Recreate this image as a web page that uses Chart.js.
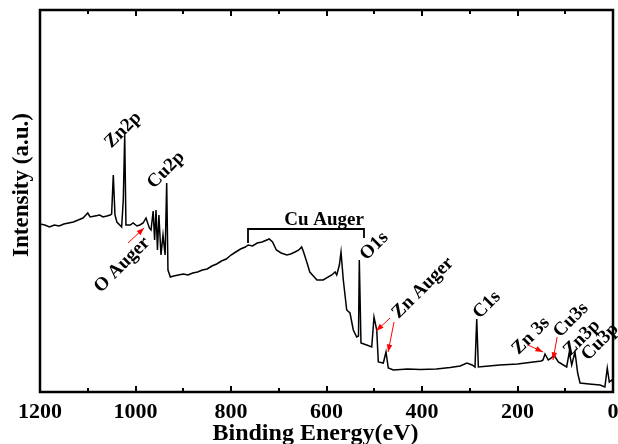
<!DOCTYPE html>
<html>
<head>
<meta charset="utf-8">
<script src="https://cdn.jsdelivr.net/npm/chart.js@4/dist/chart.umd.min.js"></script>
<style>
  html, body { margin: 0; padding: 0; background: #fff; }
  canvas { display: block; }
</style>
</head>
<body>
<canvas id="xpsChart" width="618" height="444"></canvas>
<script>
// binding energy (eV) and intensity (a.u.)
const energies = [
    1200, 1190, 1180, 1170, 1160, 1150, 1140, 1130, 1120, 1110, 1100, 1095, 1085, 1075, 1068, 1060, 1053,
    1050, 1046.5, 1043, 1039, 1029, 1025.6, 1022.6, 1020,
    1011, 1005, 997, 991, 984, 978, 971, 967.5, 963, 960, 957, 954, 951, 946.6, 942.4, 938, 934.7, 932,
    927, 920, 910, 900, 890, 880, 870, 860, 850, 840, 830, 820, 810, 800, 790, 780, 770, 764,
    755, 745, 735, 725, 720, 713, 705, 695, 683, 675, 666, 658, 652, 648, 640, 635,
    620, 607, 589, 582, 578.6, 573, 569.6, 564.8, 557.7, 550.8, 543.9, 536.8, 533, 531.3, 527.8, 515.8, 505.3,
    500.5, 494.8, 491.5, 481, 475.4, 470.6, 460, 430, 404, 370, 341, 320, 306, 295, 289, 285.4, 282,
    260, 237, 200, 167, 150, 146.6, 142.4, 135.5, 129, 123.6, 114.5, 97, 91.5, 86.5, 79.6, 74,
    69, 50, 27, 17, 12, 7.7, 2.7, 0
];
const intensities = [
    168, 167, 165, 167, 166, 168, 169, 170, 172, 174, 179, 175, 176, 177, 175, 176, 177,
    178, 217, 177, 170, 165, 192, 257, 167,
    167, 169, 166, 167, 169, 174, 164, 162, 181, 152, 182, 142, 177, 137, 157, 137, 209, 122,
    115, 116, 117, 118, 117, 119, 120, 122, 123, 126, 128, 131, 133, 137, 140, 143, 145, 147,
    146, 149, 150, 152, 153, 150, 142, 139, 137, 138, 140, 142, 145, 140, 128, 120,
    112, 112, 117, 120, 117, 127, 140, 112, 82, 79, 62, 55, 56, 132, 49, 47, 45,
    75, 62, 30, 29, 40, 24, 22, 23, 22.5, 23, 24.5, 26, 29, 27, 25, 73, 25,
    26, 27, 28, 30, 31, 32, 38, 32, 34, 37, 30, 25, 40, 27, 40, 19,
    9, 8, 7, 5, 24, 10, 12, 10
];

// peak labels: text, energy, intensity of text centre
const peakLabels = ['Zn2p', 'Cu2p', 'O Auger', 'Cu Auger', 'O1s', 'Zn Auger', 'C1s', 'Zn 3s', 'Cu3s', 'Zn3p', 'Cu3p'];
const labelEnergy = [1026, 936, 1028, 605, 500, 398, 264, 172, 88, 65, 27];
const labelIntensity = [262, 222, 127, 172, 146, 104, 87, 56, 72, 54, 50];
const labelAngle = [-45, -45, -45, 0, -45, -45, -45, -45, -45, -45, -45];

// red arrows: tail energy/intensity -> head energy/intensity
const arrowFromE = [1015.7, 467, 458.6, 178, 117];
const arrowFromI = [149, 74, 70, 47, 55];
const arrowToE = [982, 496, 471, 146.6, 125.6];
const arrowToI = [164, 61, 40, 40, 32];

// Cu Auger bracket
const bracketE = [764.4, 521.5];
const bracketTop = 163;
const bracketFoot = [149, 154];

const xTitle = 'Binding Energy(eV)';
const yTitle = 'Intensity (a.u.)';

const serif = '"Liberation Serif", "Times New Roman", serif';

const decorations = {
    id: 'decorations',
    afterDatasetsDraw(chart) {
        const { ctx, chartArea: a, scales: { x, y } } = chart;
        ctx.save();

        // frame
        ctx.strokeStyle = '#000';
        ctx.lineWidth = 2.5;
        ctx.strokeRect(a.left, a.top, a.right - a.left, a.bottom - a.top);

        // inward ticks on bottom and top
        ctx.lineWidth = 2;
        for (let e = 0; e <= 1200; e += 100) {
            const px = Math.round(x.getPixelForValue(e));
            const len = e % 200 === 0 ? 6 : 4;
            ctx.beginPath();
            ctx.moveTo(px, a.bottom);
            ctx.lineTo(px, a.bottom - len);
            ctx.moveTo(px, a.top);
            ctx.lineTo(px, a.top + len);
            ctx.stroke();
        }

        // bracket
        ctx.lineWidth = 1.8;
        ctx.beginPath();
        ctx.moveTo(x.getPixelForValue(bracketE[0]), y.getPixelForValue(bracketFoot[0]));
        ctx.lineTo(x.getPixelForValue(bracketE[0]), y.getPixelForValue(bracketTop));
        ctx.lineTo(x.getPixelForValue(bracketE[1]), y.getPixelForValue(bracketTop));
        ctx.lineTo(x.getPixelForValue(bracketE[1]), y.getPixelForValue(bracketFoot[1]));
        ctx.stroke();

        // labels
        ctx.fillStyle = '#000';
        ctx.font = 'bold 19px ' + serif;
        ctx.textAlign = 'center';
        ctx.textBaseline = 'middle';
        peakLabels.forEach((t, i) => {
            ctx.save();
            ctx.translate(x.getPixelForValue(labelEnergy[i]), y.getPixelForValue(labelIntensity[i]));
            ctx.rotate(labelAngle[i] * Math.PI / 180);
            ctx.fillText(t, 0, 0);
            ctx.restore();
        });

        // arrows
        ctx.strokeStyle = '#ff0000';
        ctx.fillStyle = '#ff0000';
        ctx.lineWidth = 1;
        arrowFromE.forEach((e, i) => {
            const x0 = x.getPixelForValue(e), y0 = y.getPixelForValue(arrowFromI[i]);
            const x1 = x.getPixelForValue(arrowToE[i]), y1 = y.getPixelForValue(arrowToI[i]);
            const ang = Math.atan2(y1 - y0, x1 - x0);
            ctx.beginPath();
            ctx.moveTo(x0, y0);
            ctx.lineTo(x1, y1);
            ctx.stroke();
            ctx.beginPath();
            ctx.moveTo(x1, y1);
            ctx.lineTo(x1 - 8 * Math.cos(ang - 0.35), y1 - 8 * Math.sin(ang - 0.35));
            ctx.lineTo(x1 - 8 * Math.cos(ang + 0.35), y1 - 8 * Math.sin(ang + 0.35));
            ctx.closePath();
            ctx.fill();
        });

        // axis titles (sit slightly left of / above the plot centre in the original)
        ctx.fillStyle = '#000';
        ctx.textAlign = 'center';
        ctx.font = 'bold 24px ' + serif;
        ctx.textBaseline = 'alphabetic';
        ctx.fillText(xTitle, (a.left + a.right) / 2 - 11, 440);
        ctx.save();
        ctx.font = 'bold 23px ' + serif;
        ctx.textBaseline = 'middle';
        ctx.translate(22, (a.top + a.bottom) / 2 - 16);
        ctx.rotate(-Math.PI / 2);
        ctx.fillText(yTitle, 0, 0);
        ctx.restore();

        ctx.restore();
    }
};

const ctx = document.getElementById('xpsChart').getContext('2d');
const chart = new Chart(ctx, {
    type: 'line',
    data: {
        datasets: [{
            label: 'XPS survey',
            data: energies.map((e, i) => ({ x: e, y: intensities[i] })),
            borderColor: '#000',
            borderWidth: 1.5,
            pointRadius: 0,
            tension: 0,
            fill: false
        }]
    },
    options: {
        responsive: false,
        animation: false,
        devicePixelRatio: 1,
        layout: { padding: { top: 10, right: 5, left: 0, bottom: 0 } },
        plugins: {
            legend: { display: false },
            tooltip: { enabled: false }
        },
        scales: {
            x: {
                type: 'linear',
                reverse: true,
                min: 0,
                max: 1200,
                grid: { display: false, drawTicks: false },
                border: { display: false },
                ticks: {
                    stepSize: 200,
                    padding: 7,
                    color: '#000',
                    maxRotation: 0,
                    callback: v => String(v),
                    font: { family: serif, size: 22, weight: 'bold' }
                },
                afterFit(scale) {
                    scale.height = 52;
                    scale.paddingLeft = 0;
                    scale.paddingRight = 0;
                }
            },
            y: {
                min: 0,
                max: 382,
                grid: { display: false, drawTicks: false },
                border: { display: false },
                ticks: { display: false },
                afterFit(scale) { scale.width = 40; }
            }
        }
    },
    plugins: [decorations]
});
</script>
</body>
</html>
